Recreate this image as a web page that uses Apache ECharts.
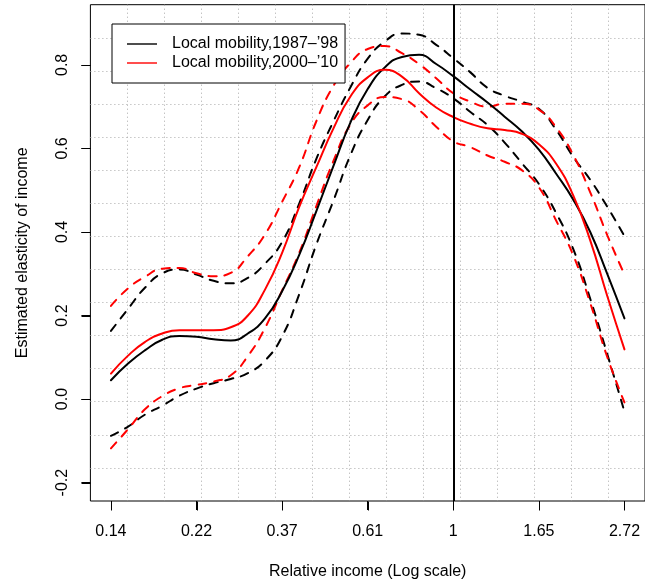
<!DOCTYPE html>
<html><head><meta charset="utf-8">
<script src="https://cdn.jsdelivr.net/npm/echarts@6/dist/echarts.min.js"></script>
<style>html,body{margin:0;padding:0;background:#fff}#c{width:645px;height:585px}</style>
</head><body><div id="c"></div>
<script>
// x positions: log of relative income
const logIncome = [-2.0, -1.9, -1.8, -1.7, -1.6, -1.5, -1.4, -1.3, -1.2, -1.1, -1.0,
  -0.9, -0.8, -0.7, -0.6, -0.5, -0.4, -0.3, -0.2, -0.1, 0.0,
  0.1, 0.2, 0.3, 0.4, 0.5, 0.6, 0.7, 0.8, 0.9, 1.0];

const xTickValues = [-2, -1.5, -1, -0.5, 0, 0.5, 1];
const xTickLabels = ['0.14', '0.22', '0.37', '0.61', '1', '1.65', '2.72'];
const yTickValues = [-0.2, 0, 0.2, 0.4, 0.6, 0.8];
const yTickLabels = ['-0.2', '0.0', '0.2', '0.4', '0.6', '0.8'];
const xRange = [-2.12, 1.12];
const yRange = [-0.244, 0.944];

const seriesNames = ['Local mobility,1987\u2013\u201998', 'Local mobility,2000\u2013\u201910'];

// 1987-'98 estimate and confidence band
const est8798 = [0.045, 0.085, 0.117, 0.142, 0.151, 0.149, 0.143, 0.140, 0.157, 0.193, 0.258,
  0.345, 0.450, 0.558, 0.663, 0.742, 0.794, 0.819, 0.824, 0.802, 0.773,
  0.741, 0.710, 0.676, 0.641, 0.597, 0.540, 0.478, 0.400, 0.299, 0.193];
const upper8798 = [0.163, 0.216, 0.267, 0.301, 0.310, 0.298, 0.283, 0.277, 0.290, 0.324, 0.376,
  0.468, 0.575, 0.665, 0.747, 0.815, 0.856, 0.875, 0.872, 0.848, 0.816,
  0.782, 0.745, 0.726, 0.712, 0.695, 0.645, 0.580, 0.525, 0.460, 0.390];
const lower8798 = [-0.088, -0.066, -0.037, -0.016, 0.008, 0.025, 0.038, 0.048, 0.062, 0.092, 0.150,
  0.251, 0.370, 0.475, 0.585, 0.668, 0.725, 0.752, 0.760, 0.744, 0.720,
  0.687, 0.656, 0.614, 0.565, 0.515, 0.446, 0.360, 0.240, 0.107, -0.030];

// 2000-'10 estimate and confidence band
const est0010 = [0.061, 0.104, 0.137, 0.157, 0.165, 0.165, 0.165, 0.172, 0.200, 0.262, 0.350,
  0.460, 0.555, 0.648, 0.725, 0.770, 0.788, 0.772, 0.732, 0.698, 0.675,
  0.659, 0.648, 0.644, 0.635, 0.610, 0.564, 0.488, 0.380, 0.246, 0.119];
const upper0010 = [0.223, 0.265, 0.293, 0.312, 0.314, 0.301, 0.294, 0.302, 0.342, 0.394, 0.472,
  0.555, 0.665, 0.750, 0.805, 0.838, 0.845, 0.828, 0.802, 0.768, 0.732,
  0.712, 0.700, 0.707, 0.707, 0.693, 0.651, 0.585, 0.495, 0.392, 0.298];
const lower0010 = [-0.118, -0.072, -0.024, 0.007, 0.026, 0.034, 0.042, 0.057, 0.103, 0.170, 0.260,
  0.350, 0.462, 0.570, 0.658, 0.703, 0.723, 0.718, 0.692, 0.652, 0.617,
  0.603, 0.583, 0.568, 0.548, 0.507, 0.428, 0.345, 0.230, 0.100, -0.008];

const FONT = 'Liberation Sans, Arial, Helvetica, sans-serif';
const TICK_LEN = 9;
const pairs = arr => logIncome.map((x, i) => [x, arr[i]]);
const lookup = (vals, labels) => v => {
  const i = vals.findIndex(t => Math.abs(t - v) < 1e-6);
  return i >= 0 ? labels[i] : '';
};

function line(name, data, color, dashed, extra) {
  return Object.assign({
    type: 'line', name: name, data: pairs(data), xAxisIndex: 0, yAxisIndex: 0,
    showSymbol: false, symbol: 'none', smooth: 0.5, silent: true, z: 3,
    itemStyle: { color: color },
    lineStyle: { color: color, width: 2, type: dashed ? [8, 8] : 'solid', cap: 'round', join: 'round' }
  }, extra || {});
}

// tick marks drawn through the axes' own scales (api.coord), on their own layer
function tickSeries(isX) {
  const data = isX ? xTickValues.map(v => [v, yRange[0]]) : yTickValues.map(v => [xRange[0], v]);
  return {
    type: 'custom', name: isX ? 'xticks' : 'yticks', xAxisIndex: 0, yAxisIndex: 0,
    clip: false, silent: true, z: 50, zlevel: 2, data: data,
    renderItem: function (params, api) {
      const p = api.coord([api.value(0), api.value(1)]);
      const x = Math.round(p[0]) + 0.5, y = Math.round(p[1]) + 0.5;
      const shape = isX ? { x1: x, y1: y, x2: x, y2: y + TICK_LEN }
                        : { x1: x - TICK_LEN, y1: y, x2: x, y2: y };
      return { type: 'line', shape: shape, style: { stroke: '#000', lineWidth: 1 } };
    }
  };
}

const gridLine = { show: true, showMinLine: false, showMaxLine: false,
  lineStyle: { color: '#a9a9a9', width: 1, type: [1, 3] } };

const chart = echarts.init(document.getElementById('c'), null, { renderer: 'canvas' });
chart.setOption({
  animation: false,
  backgroundColor: '#ffffff',
  textStyle: { fontFamily: FONT, color: '#000' },
  grid: { left: 90.4, top: 4.7, width: 556.3, height: 497.5, show: true,
    borderColor: '#000', borderWidth: 1, backgroundColor: 'transparent' },
  legend: {
    data: seriesNames, orient: 'vertical', left: 112, top: 24,
    backgroundColor: '#fff', borderColor: '#000', borderWidth: 1, borderRadius: 0,
    padding: [12, 7, 12, 15], itemGap: 3, itemWidth: 30, itemHeight: 1.4, icon: 'rect',
    textStyle: { fontSize: 16, color: '#000', fontFamily: FONT, padding: [0, 0, 0, 10] },
    z: 10
  },
  xAxis: [
    { type: 'value', min: xRange[0], max: xRange[1], position: 'bottom',
      name: 'Relative income (Log scale)', nameLocation: 'middle', nameGap: 63,
      nameTextStyle: { fontSize: 16, color: '#000', fontFamily: FONT },
      axisLine: { show: false, onZero: false },
      axisTick: { show: true, length: TICK_LEN, customValues: xTickValues,
        lineStyle: { color: '#000', width: 1 } },
      axisLabel: { show: true, customValues: xTickValues, formatter: lookup(xTickValues, xTickLabels),
        fontSize: 16, color: '#000', margin: 23, fontFamily: FONT },
      splitLine: { show: false } },
    { type: 'value', min: 0, max: 15, interval: 1, position: 'top',
      axisLine: { show: false, onZero: false }, axisTick: { show: false }, axisLabel: { show: false },
      splitLine: gridLine }
  ],
  yAxis: [
    { type: 'value', min: yRange[0], max: yRange[1], position: 'left',
      name: 'Estimated elasticity of income', nameLocation: 'middle', nameGap: 60, nameRotate: 90,
      nameTextStyle: { fontSize: 16, color: '#000', fontFamily: FONT },
      axisLine: { show: false, onZero: false },
      axisTick: { show: true, length: TICK_LEN, customValues: yTickValues,
        lineStyle: { color: '#000', width: 1 } },
      axisLabel: { show: true, customValues: yTickValues, formatter: lookup(yTickValues, yTickLabels),
        rotate: 90, fontSize: 16, color: '#000', margin: 20, fontFamily: FONT },
      splitLine: { show: false } },
    { type: 'value', min: 0, max: 15, interval: 1, position: 'right',
      axisLine: { show: false, onZero: false }, axisTick: { show: false }, axisLabel: { show: false },
      splitLine: gridLine }
  ],
  series: [
    line('ci8798u', upper8798, '#000000', true),
    line('ci8798l', lower8798, '#000000', true),
    line('ci0010u', upper0010, '#ff0000', true),
    line('ci0010l', lower0010, '#ff0000', true),
    line(seriesNames[0], est8798, '#000000', false, {
      markLine: { silent: true, symbol: ['none', 'none'], label: { show: false },
        lineStyle: { color: '#000', width: 2, type: 'solid' }, data: [{ xAxis: 0 }] }
    }),
    line(seriesNames[1], est0010, '#ff0000', false),
    tickSeries(true),
    tickSeries(false)
  ]
});
</script></body></html>
